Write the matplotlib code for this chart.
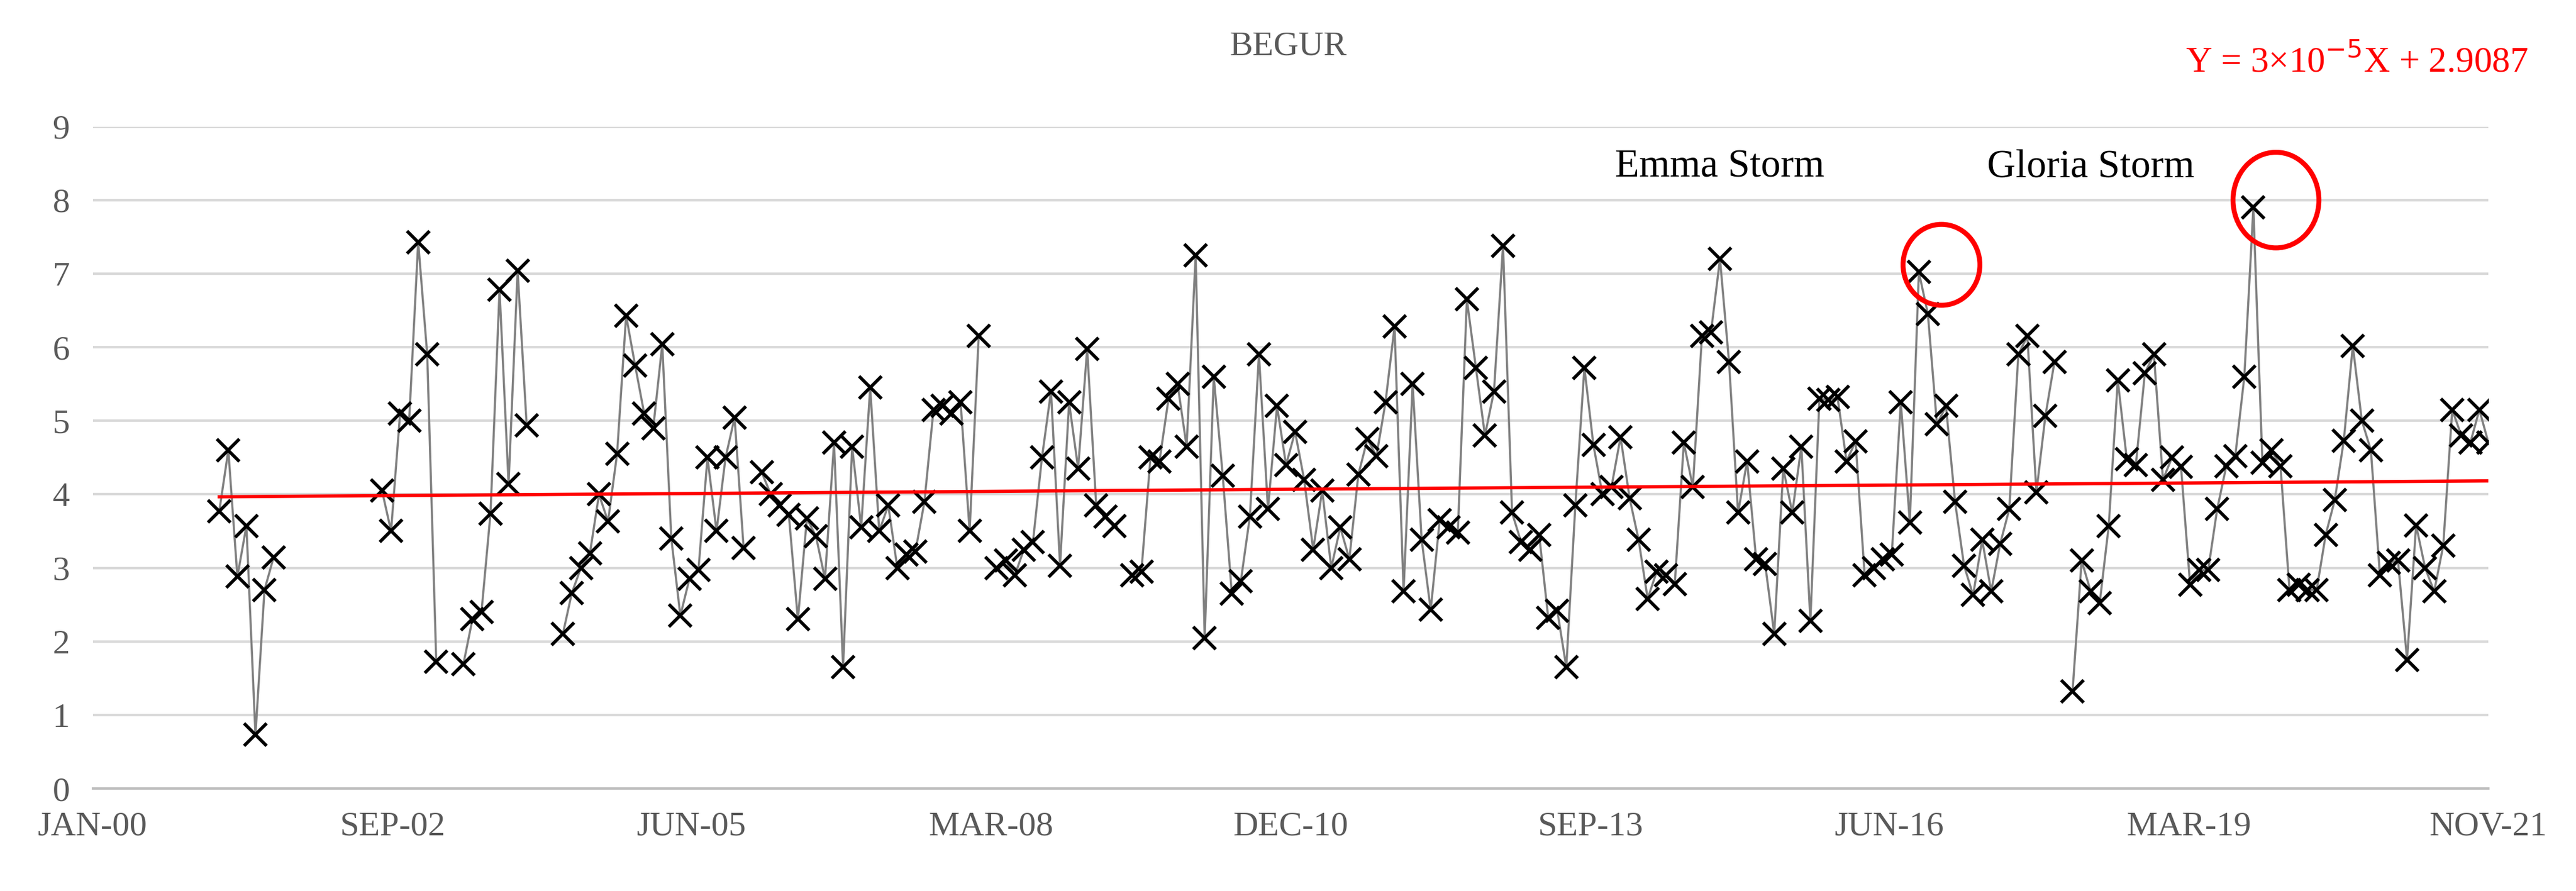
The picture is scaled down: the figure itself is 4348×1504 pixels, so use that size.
import numpy as np
import matplotlib.pyplot as plt
from matplotlib.patches import Ellipse

nan = np.nan
# monthly values, first entry = MAR-01 (month 14 after JAN-00); nan = no data
start_month = 14
values = [
    3.77, 4.6, 2.88, 3.57, 0.73, 2.70, 3.14,
    nan, nan, nan, nan, nan, nan, nan, nan, nan, nan, nan,
    4.05, 3.5, 5.1, 5.0, 7.43, 5.9, 1.72, nan, nan,
    1.69, 2.3, 2.4, 3.74, 6.78, 4.14, 7.04, 4.94, nan, nan, nan,
    2.1, 2.66, 3.0, 3.2, 4.0, 3.63, 4.55, 6.43, 5.75, 5.1,
    4.9, 6.04, 3.4, 2.35, 2.85, 2.97, 4.5, 3.5, 4.5, 5.04, 3.27, nan,
    4.3, 4.0, 3.85, 3.72, 2.3, 3.67, 3.43, 2.85, 4.7, 1.65, 4.65, 3.55,
    5.45, 3.5, 3.85, 3.0, 3.18, 3.22, 3.9, 5.15, 5.2, 5.1, 5.25, 3.5, 6.15, nan,
    3.0, 3.1, 2.9, 3.25, 3.35, 4.5, 5.4, 3.03, 5.25, 4.35, 5.98,
    3.85, 3.7, 3.57, nan, 2.9, 2.95, 4.5, 4.45, 5.3, 5.5, 4.65, 7.25, 2.05,
    5.6, 4.25, 2.65, 2.82, 3.7, 5.9, 3.8, 5.2, 4.4, 4.85, 4.2,
    3.25, 4.05, 3.0, 3.55, 3.12, 4.27, 4.75, 4.52, 5.25, 6.28, 2.68, 5.5,
    3.38, 2.43, 3.65, 3.55, 3.48, 6.65, 5.72, 4.8, 5.4, 7.38,
    3.75, 3.35, 3.25, 3.45, 2.32, 2.42, 1.65, 3.85, 5.72, 4.67, 4.0, 4.1,
    4.78, 3.95, 3.38, 2.58, 2.95, 2.9, 2.78, 4.7, 4.1, 6.15, 6.2, 7.2, 5.8,
    3.75, 4.45, 3.12, 3.05, 2.1, 4.35, 3.75, 4.65, 2.28, 5.3, 5.28, 5.32,
    4.45, 4.72, 2.9, 3.0, 3.12, 3.18, 5.25, 3.62, 7.02, 6.45, 4.95, 5.2, 3.9,
    3.03, 2.63, 3.38, 2.68, 3.33, 3.8, 5.9, 6.15, 4.03, 5.07, 5.8, nan,
    1.32, 3.1, 2.68, 2.52, 3.57, 5.55, 4.48, 4.4, 5.65, 5.9, 4.2, 4.5, 4.37,
    2.77, 2.97, 2.97, 3.8, 4.38, 4.52, 5.6, 7.9, 4.43, 4.6, 4.38, 2.7, 2.77,
    2.7, 2.7, 3.45, 3.92, 4.73, 6.02, 5.0, 4.6, 2.9, 3.07, 3.1, 1.75, 3.58,
    3.0, 2.68, 3.3, 5.15, 4.8, 4.7, 5.15, 4.7,
]
tick_labels = ["JAN-00", "SEP-02", "JUN-05", "MAR-08", "DEC-10",
               "SEP-13", "JUN-16", "MAR-19", "NOV-21"]
storms = [("Emma Storm", 7.02), ("Gloria Storm", 7.9)]

y = np.array(values, dtype=float)
x = start_month + np.arange(len(y))
x_end = x[-1]

plt.rcParams['font.family'] = ['Liberation Serif', 'DejaVu Serif']
fig = plt.figure(figsize=(21.74, 7.52), dpi=200)
ax = fig.add_axes([0.036, 0.115, 0.93, 0.743])

ax.plot(x, y, color='#808080', lw=1.3, zorder=2)
ax.plot(x, y, 'x', color='black', ms=14, mew=2, zorder=3)

ok = ~np.isnan(y)
k, b = np.polyfit(x[ok], y[ok], 1)
ax.plot([x[0], x_end], [k * x[0] + b, k * x_end + b], color='red', lw=2, zorder=4)

# circles and labels around the two storm peaks
circle_size = {"Emma Storm": (8.5, 1.1), "Gloria Storm": (9.5, 1.3)}
label_shift = {"Emma Storm": -22, "Gloria Storm": -18}
for name, val in storms:
    i = int(np.nanargmin(np.abs(y - val)))
    w, h = circle_size[name]
    ax.add_patch(Ellipse((x[i] + 2.5, y[i] + 0.1), w, h, fill=False,
                         ec='red', lw=3, zorder=5))
    ax.text(x[i] + label_shift[name], 8.45, name,
            fontsize=24, ha='center', va='center')

ax.set_xlim(0, x_end)
ax.set_ylim(0, 9)
ax.set_yticks(range(10))
ax.set_xticks(np.linspace(0, x_end, len(tick_labels)))
ax.set_xticklabels(tick_labels)
ax.tick_params(axis='both', length=0, labelsize=21, colors='#595959', pad=14)
ax.grid(axis='y', color='#d9d9d9', lw=1.5, zorder=0)
for s in ['top', 'right', 'left']:
    ax.spines[s].set_visible(False)
ax.spines['bottom'].set_color('#bfbfbf')
ax.spines['bottom'].set_linewidth(1.5)

fig.text(0.5, 0.948, "BEGUR", ha='center', va='center', fontsize=21, color='#595959')
fig.text(0.915, 0.93, r"Y = 3×10$^{-5}$X + 2.9087", ha='center', va='center',
         fontsize=22, color='red')

fig.savefig("out.png", dpi=200)
